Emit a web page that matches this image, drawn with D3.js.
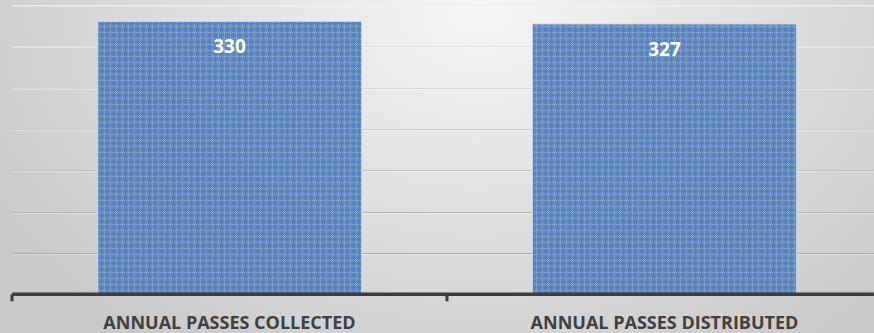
<!DOCTYPE html>
<html>
<head>
<meta charset="utf-8">
<script src="https://cdn.jsdelivr.net/npm/d3@7"></script>
<style>
  html, body { margin: 0; padding: 0; background: #d8d8d8; }
  svg { display: block; }
</style>
</head>
<body>
<svg id="chart" width="874" height="333"></svg>
<script>
// Annual pass counts
const categories = ["ANNUAL PASSES COLLECTED", "ANNUAL PASSES DISTRIBUTED"];
const values = [330, 327];
const gridTicks = [50, 100, 150, 200, 250, 300, 350];

const W = 874, H = 333;
const svg = d3.select("#chart");
const defs = svg.append("defs");

// soft radial backdrop
const bg = defs.append("radialGradient")
  .attr("id", "bg").attr("gradientUnits", "userSpaceOnUse")
  .attr("cx", 480).attr("cy", 10).attr("r", 560)
  .attr("gradientTransform", "translate(480,10) scale(1,0.75) translate(-480,-10)");
bg.append("stop").attr("offset", 0).attr("stop-color", "#f5f5f5");
bg.append("stop").attr("offset", 0.55).attr("stop-color", "#dddddd");
bg.append("stop").attr("offset", 1).attr("stop-color", "#c9c9c9");

// textured bar fill
const pat = defs.append("pattern")
  .attr("id", "tex").attr("patternUnits", "userSpaceOnUse")
  .attr("width", 6).attr("height", 6);
pat.append("rect").attr("width", 6).attr("height", 6).attr("fill", "#4f7ebf");
[[2,0],[0,2],[4,2],[2,4]].forEach(([x, y]) =>
  pat.append("rect").attr("x", x).attr("y", y).attr("width", 1).attr("height", 1).attr("fill", "#8fb1e0"));
[[1,1],[3,1],[1,3],[3,3]].forEach(([x, y]) =>
  pat.append("rect").attr("x", x).attr("y", y).attr("width", 1).attr("height", 1).attr("fill", "#6d98d3"));
pat.append("rect").attr("x", 2).attr("y", 2).attr("width", 1).attr("height", 1).attr("fill", "#a3c0e8");

svg.append("rect").attr("width", W).attr("height", H).attr("fill", "url(#bg)");

const x0 = 12, x1 = 882;
const x = d3.scaleBand().domain(categories).range([x0, x1]).paddingInner(0).paddingOuter(0);
const barW = x.bandwidth() * 0.607;
const y = d3.scaleLinear().domain([0, 350]).range([294.3, 5]);

// gridlines
const shade = d3.scaleLinear().domain([350, 50]).range(["#ececec", "#a9a9a9"]);
const grid = svg.append("g");
gridTicks.forEach(t => {
  grid.append("line").attr("x1", x0).attr("x2", W)
    .attr("y1", Math.round(y(t)) + 0.5).attr("y2", Math.round(y(t)) + 0.5)
    .attr("stroke", shade(t)).attr("stroke-width", 1);
  grid.append("line").attr("x1", x0).attr("x2", W)
    .attr("y1", Math.round(y(t)) + 1.5).attr("y2", Math.round(y(t)) + 1.5)
    .attr("stroke", "#ffffff").attr("stroke-opacity", 0.35).attr("stroke-width", 1);
});

// bars
svg.append("g").selectAll("rect").data(values).join("rect")
  .attr("x", (d, i) => x(categories[i]) + (x.bandwidth() - barW) / 2)
  .attr("y", d => y(d))
  .attr("width", barW)
  .attr("height", d => y(0) - y(d))
  .attr("fill", "url(#tex)")
  .attr("fill-opacity", 0.95)
  .attr("stroke", "#c3d3ea").attr("stroke-width", 1);

// value labels
svg.append("g").selectAll("text").data(values).join("text")
  .attr("x", (d, i) => x(categories[i]) + x.bandwidth() / 2)
  .attr("y", d => y(d) + 31.5)
  .attr("text-anchor", "middle")
  .attr("font-family", "'Open Sans', sans-serif")
  .attr("font-weight", 700).attr("font-size", 19)
  .attr("fill", "#ffffff")
  .text(d => d);

// category axis
const axis = svg.append("g").attr("transform", `translate(0,${y(0)})`)
  .call(d3.axisBottom(x).tickSize(0).tickSizeOuter(0).tickFormat(""));
axis.select(".domain").remove();
axis.selectAll(".tick").remove();
axis.append("line").attr("x1", x0).attr("x2", W).attr("y1", 0).attr("y2", 0)
  .attr("stroke", "#3d3d3d").attr("stroke-width", 3.6);
[x0, x(categories[1])].forEach(px => {
  axis.append("line").attr("x1", px).attr("x2", px).attr("y1", 0).attr("y2", 7)
    .attr("stroke", "#3d3d3d").attr("stroke-width", 3);
});
axis.selectAll("text.cat").data(categories).join("text").attr("class", "cat")
  .attr("x", d => x(d) + x.bandwidth() / 2)
  .attr("y", 34.7)
  .attr("text-anchor", "middle")
  .attr("font-family", "'Open Sans', sans-serif")
  .attr("font-weight", 700).attr("font-size", 18)
  .attr("fill", "#404040")
  .text(d => d);
</script>
</body>
</html>
